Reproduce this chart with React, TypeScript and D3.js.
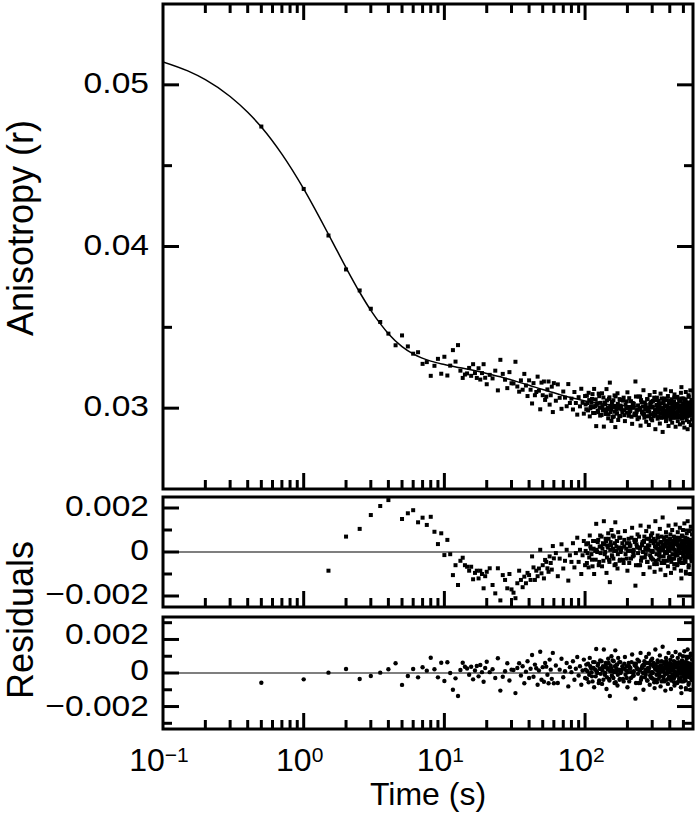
import React from 'react';
import * as d3 from 'd3';

// sample times (s); the last three blocks fill the dense tail of the record
const TIME_S = [
  0.5, 1, 1.5, 2, 2.5, 3, 3.5, 4, 4.5, 5, 5.5, 6, 6.5, 7, 7.5, 8, 8.5, 9, 9.5, 10,
  10.5, 11, 11.5, 12, 12.5, 13, 13.5, 14, 14.5, 15, 15.5, 16, 16.5, 17, 17.5, 18, 18.5, 19, 19.5, 20,
  21, 22, 23, 24, 25, 26, 27, 28, 29, 30, 31, 32, 33, 34, 35, 36, 37, 38, 39, 40,
  41, 42, 43, 44, 45, 46, 47, 48, 49, 50, 51, 52, 53, 54, 55, 56, 57, 58, 59, 60,
  62, 64, 66, 68, 70, 72, 74, 76, 78, 80, 82, 84, 86, 88, 90, 92, 94, 96, 98, 100,
  102, 104, 106, 108, 110, 112, 114, 116, 118, 120, 122, 124, 126, 128, 130, 132, 134, 136, 138, 140,
  142, 144, 146, 148, 150, 152, 154, 156, 158, 160, 162, 164, 166, 168, 170, 172, 174, 176, 178, 180,
  184, 188, 192, 196, 200, 204, 208, 212, 216, 220, 224, 228, 232, 236, 240, 244, 248, 252, 256, 260,
  264, 268, 272, 276, 280, 284, 288, 292, 296, 300, 304, 308, 312, 316, 320, 324, 328, 332, 336, 340,
  344, 348, 352, 356, 360, 364, 368, 372, 376, 380, 384, 388, 392, 396, 400, 404, 408, 412, 416, 420,
  424, 428, 432, 436, 440, 444, 448, 452, 456, 460, 464, 468, 472, 476, 480, 484, 488, 492, 496, 500,
  504, 508, 512, 516, 520, 524, 528, 532, 536, 540, 544, 548, 552, 556, 560, 564, 568, 572, 576, 580,
  101, 103, 105, 107, 109, 111, 113, 115, 117, 119, 121, 123, 125, 127, 129, 131, 133, 135, 137, 139,
  141, 143, 145, 147, 149, 151, 153, 155, 157, 159, 161, 163, 165, 167, 169, 171, 173, 175, 177, 179,
  182, 186, 190, 194, 198, 202, 206, 210, 214, 218, 222, 226, 230, 234, 238, 242, 246, 250, 254, 258,
  262, 266, 270, 274, 278, 282, 286, 290, 294, 298, 302, 306, 310, 314, 318, 322, 326, 330, 334, 338,
  342, 346, 350, 354, 358, 362, 366, 370, 374, 378, 382, 386, 390, 394, 398, 402, 406, 410, 414, 418,
  422, 426, 430, 434, 438, 442, 446, 450, 454, 458, 462, 466, 470, 474, 478, 482, 486, 490, 494, 498,
  502, 506, 510, 514, 518, 522, 526, 530, 534, 538, 542, 546, 550, 554, 558, 562, 566, 570, 574, 578,
  190, 198, 206, 214, 222, 230, 238, 246, 254, 262, 270, 278, 286, 294, 302, 310, 318, 326, 334, 342,
  350, 358, 366, 374, 382, 390, 398, 406, 414, 422, 430, 438, 446, 454, 462, 470, 478, 486, 494, 502,
  510, 518, 526, 534, 542, 550, 558, 566, 574,
];

const ANISOTROPY = [
  0.04742, 0.04356, 0.04068, 0.03858, 0.03728, 0.03615, 0.03533, 0.03461, 0.03389, 0.0345,
  0.03382, 0.03337, 0.03346, 0.03274, 0.03285, 0.032, 0.03262, 0.03305, 0.03213, 0.03318,
  0.03202, 0.03263, 0.03359, 0.03288, 0.0339, 0.03232, 0.03187, 0.03208, 0.03215, 0.03249,
  0.032, 0.03272, 0.03217, 0.03187, 0.03247, 0.03177, 0.03217, 0.03272, 0.03188, 0.03148,
  0.03206, 0.03184, 0.03232, 0.0311, 0.03299, 0.03212, 0.03176, 0.03124, 0.03223, 0.03154,
  0.03153, 0.03287, 0.03134, 0.03102, 0.03172, 0.03114, 0.03212, 0.0314, 0.03075, 0.03172,
  0.03114, 0.03029, 0.03155, 0.0308, 0.031, 0.03195, 0.03108, 0.02993, 0.03158, 0.0308,
  0.03165, 0.03051, 0.03071, 0.03116, 0.03165, 0.03022, 0.0308, 0.03133, 0.02976, 0.03155,
  0.03046, 0.03147, 0.03064, 0.02996, 0.03103, 0.03065, 0.03012, 0.03149, 0.03032, 0.03059,
  0.02992, 0.031, 0.03032, 0.0296, 0.03068, 0.03011, 0.0312, 0.03033, 0.02966, 0.03075,
  0.02993, 0.03032, 0.03095, 0.02949, 0.03008, 0.03057, 0.0297, 0.03119, 0.03013, 0.02889,
  0.03031, 0.02975, 0.03074, 0.02954, 0.03003, 0.03092, 0.02986, 0.02886, 0.03035, 0.02964,
  0.03118, 0.02993, 0.02937, 0.03057, 0.03158, 0.02976, 0.02921, 0.0304, 0.03005, 0.02949,
  0.03079, 0.02883, 0.03013, 0.02968, 0.03092, 0.02927, 0.02997, 0.03056, 0.02951, 0.03006,
  0.02975, 0.03065, 0.0292, 0.03, 0.03098, 0.02953, 0.02988, 0.03043, 0.02903, 0.03013,
  0.02957, 0.03165, 0.02977, 0.02932, 0.03072, 0.02992, 0.02892, 0.03036, 0.02966, 0.03111,
  0.02941, 0.03001, 0.02916, 0.03056, 0.02981, 0.02896, 0.03081, 0.02961, 0.03006, 0.02925,
  0.03045, 0.0295, 0.031, 0.0287, 0.0299, 0.03065, 0.02935, 0.02975, 0.03025, 0.02905,
  0.0309, 0.02965, 0.03, 0.02853, 0.0305, 0.02945, 0.02985, 0.03115, 0.0292, 0.0301,
  0.0296, 0.03075, 0.0289, 0.0298, 0.0303, 0.0293, 0.03105, 0.0297, 0.0291, 0.0304,
  0.02995, 0.0294, 0.03085, 0.02955, 0.02885, 0.0302, 0.02975, 0.0307, 0.0292, 0.03005,
  0.0295, 0.03055, 0.029, 0.02985, 0.03095, 0.0313, 0.02935, 0.02995, 0.0291, 0.0306,
  0.02965, 0.0288, 0.0304, 0.02945, 0.031, 0.0299, 0.02925, 0.03025, 0.0287, 0.0297,
  0.0308, 0.02915, 0.0301, 0.02955, 0.0311, 0.02895, 0.0298, 0.0305, 0.0293, 0.03,
  0.03023, 0.03077, 0.02986, 0.0305, 0.02999, 0.03033, 0.03087, 0.03006, 0.0297, 0.03054,
  0.03021, 0.02985, 0.0309, 0.03004, 0.03033, 0.02958, 0.03012, 0.03066, 0.02991, 0.03025,
  0.02974, 0.03048, 0.03003, 0.02962, 0.03067, 0.03011, 0.02991, 0.03035, 0.02945, 0.03049,
  0.03014, 0.02978, 0.03073, 0.02993, 0.02967, 0.03027, 0.03002, 0.02951, 0.03051, 0.03016,
  0.02992, 0.03047, 0.02957, 0.03022, 0.02972, 0.03007, 0.03062, 0.02982, 0.02947, 0.03032,
  0.03002, 0.02967, 0.03072, 0.02987, 0.03017, 0.02942, 0.02997, 0.0305, 0.02975, 0.0301,
  0.0296, 0.03035, 0.0299, 0.0295, 0.03055, 0.03, 0.0298, 0.03025, 0.02935, 0.0304,
  0.03005, 0.0297, 0.03065, 0.02985, 0.0296, 0.0302, 0.02995, 0.02945, 0.03045, 0.0301,
  0.02965, 0.0299, 0.0306, 0.02975, 0.03, 0.0303, 0.02955, 0.03015, 0.0298, 0.0294,
  0.0305, 0.02995, 0.0297, 0.03035, 0.03005, 0.0295, 0.02985, 0.03055, 0.0299, 0.0302,
  0.0296, 0.02975, 0.0304, 0.03, 0.02945, 0.03025, 0.0301, 0.02965, 0.03065, 0.0298,
  0.02995, 0.03045, 0.02955, 0.0299, 0.03015, 0.0297, 0.0306, 0.02985, 0.0294, 0.0303,
  0.03, 0.02975, 0.0305, 0.0296, 0.0301, 0.03035, 0.0295, 0.02995, 0.0302, 0.02965,
  0.0298, 0.0307, 0.0299, 0.02955, 0.03025, 0.03005, 0.0297, 0.0304, 0.02985, 0.03,
  0.02987, 0.03042, 0.02972, 0.03007, 0.03027, 0.02957, 0.02992, 0.03072, 0.0298, 0.02965,
  0.0302, 0.02995, 0.0295, 0.03035, 0.0301, 0.0296, 0.0305, 0.02975, 0.03, 0.0303,
  0.0294, 0.02985, 0.0306, 0.0297, 0.03015, 0.0299, 0.02955, 0.03045, 0.02995, 0.0298,
  0.03065, 0.02965, 0.0301, 0.03025, 0.02945, 0.03, 0.0304, 0.02975, 0.0296, 0.0302,
  0.0299, 0.03055, 0.02985, 0.0295, 0.03005, 0.03035, 0.0297, 0.02995, 0.0305,
];

// residuals of the single-exponential fit (upper residual panel)
const RESID_SINGLE = [
  -0.0042, -0.0029, -0.00085, 0.0007, 0.00105, 0.00168, 0.00209, 0.00236, 0.0028, 0.0015,
  0.00176, 0.0019, 0.00135, 0.00156, 0.00123, 0.0016, 0.00092, 0.00036, 0.00085, -0.00014,
  0.00055, -0.0001, -0.00105, -0.0006, -0.0015, -0.0004, -0.00026, -0.0006, -0.00067, -0.00085,
  -0.00067, -0.00124, -0.00095, -0.00085, -0.0012, -0.00085, -0.001, -0.00165, -0.0011, -0.0009,
  -0.00074, -0.0015, -0.00188, -0.00074, -0.0022, -0.00105, -0.00127, -0.00165, -0.001, -0.0017,
  -0.00185, -0.0021, -0.00142, -0.00085, -0.00127, -0.0016, -0.00112, -0.00142, -0.00095, -0.00105,
  -0.00127, -0.0002, -0.0007, -0.00127, -0.00085, -0.0011, -0.00075, 0.0001, -0.00097, -0.0006,
  -0.0012, -0.00036, -0.00045, -0.00074, -0.0009, -0.0002, -0.0005, -0.0008, 0.00027, -0.00029,
  -0.00005, -0.0011, -0.0003, 0.00035, -0.00075, -0.0004, 0.0001, -0.0013, -0.00015, -0.00045,
  0.0004, -0.0007, -0.00005, 0.00065, -0.00045, 0.0001, -0.001, -0.00015, 0.0005, -0.0006,
  0.00035, -0.00005, -0.0007, 0.00075, 0.00015, -0.00035, 0.0005, -0.001, 0.00005, 0.00128,
  0, 0.00055, -0.00045, 0.00075, 0.00025, -0.00065, 0.0004, 0.0014, -0.0001, 0.0006,
  -0.00095, 0.0003, 0.00085, -0.00035, -0.00137, 0.00045, 0.001, -0.0002, 0.00015, 0.0007,
  -0.0006, 0.00135, 0.00005, 0.0005, -0.00075, 0.0009, 0.0002, -0.0004, 0.00065, 0.0001,
  0.0004, -0.0005, 0.00095, 0.00015, -0.00085, 0.0006, 0.00025, -0.0003, 0.0011, 0,
  0.00055, -0.00153, 0.00035, 0.0008, -0.0006, 0.0002, 0.0012, -0.00025, 0.00045, -0.001,
  0.0007, 0.0001, 0.00095, -0.00045, 0.0003, 0.00115, -0.0007, 0.0005, 0.00005, 0.00085,
  -0.00035, 0.0006, -0.0009, 0.0014, 0.0002, -0.00055, 0.00075, 0.00035, -0.00015, 0.00105,
  -0.0008, 0.00045, 0.0001, 0.00157, -0.0004, 0.00065, 0.00025, -0.00105, 0.0009, 0,
  0.0005, -0.00065, 0.0012, 0.0003, -0.0002, 0.0008, -0.00095, 0.0004, 0.001, -0.0003,
  0.00015, 0.0007, -0.00075, 0.00055, 0.00125, -0.0001, 0.00035, -0.0006, 0.0009, 0.00005,
  0.0006, -0.00045, 0.0011, 0.00025, -0.00085, -0.0012, 0.00075, 0.00015, 0.001, -0.0005,
  0.00045, 0.0013, -0.0003, 0.00065, -0.0009, 0.0002, 0.00085, -0.00015, 0.0014, 0.0004,
  -0.0007, 0.00095, 0, 0.00055, -0.001, 0.00115, 0.0003, -0.0004, 0.0008, 0.0001,
  0.00005, -0.0005, 0.0004, -0.00025, 0.00025, -0.0001, -0.00065, 0.00015, 0.0005, -0.00035,
  0.0001, 0.00045, -0.0006, 0.00025, -0.00005, 0.0007, 0.00015, -0.0004, 0.00035, 0,
  0.0005, -0.00025, 0.0002, 0.0006, -0.00045, 0.0001, 0.0003, -0.00015, 0.00075, -0.0003,
  0.00005, 0.0004, -0.00055, 0.00025, 0.0005, -0.0001, 0.00015, 0.00065, -0.00035, 0,
  0.0002, -0.00035, 0.00055, -0.0001, 0.0004, 0.00005, -0.0005, 0.0003, 0.00065, -0.0002,
  0.0001, 0.00045, -0.0006, 0.00025, -0.00005, 0.0007, 0.00015, -0.0004, 0.00035, 0,
  0.0005, -0.00025, 0.0002, 0.0006, -0.00045, 0.0001, 0.0003, -0.00015, 0.00075, -0.0003,
  0.00005, 0.0004, -0.00055, 0.00025, 0.0005, -0.0001, 0.00015, 0.00065, -0.00035, 0,
  0.00045, 0.0002, -0.0005, 0.00035, 0.0001, -0.0002, 0.00055, -0.00005, 0.0003, 0.0007,
  -0.0004, 0.00015, 0.0004, -0.00025, 0.00005, 0.0006, 0.00025, -0.00045, 0.0002, -0.0001,
  0.0005, 0.00035, -0.0003, 0.0001, 0.00065, -0.00015, 0, 0.00045, -0.00055, 0.0003,
  0.00015, -0.00035, 0.00055, 0.0002, -0.00005, 0.0004, -0.0005, 0.00025, 0.0007, -0.0002,
  0.0001, 0.00035, -0.0004, 0.0005, 0, -0.00025, 0.0006, 0.00015, -0.0001, 0.00045,
  0.0003, -0.0006, 0.0002, 0.00055, -0.00015, 0.00005, 0.0004, -0.0003, 0.00025, 0.0001,
  0.00025, -0.0003, 0.0004, 0.00005, -0.00015, 0.00055, 0.0002, -0.0006, 0.0003, 0.00045,
  -0.0001, 0.00015, 0.0006, -0.00025, 0, 0.0005, -0.0004, 0.00035, 0.0001, -0.0002,
  0.0007, 0.00025, -0.0005, 0.0004, -0.00005, 0.0002, 0.00055, -0.00035, 0.00015, 0.0003,
  -0.00055, 0.00045, 0, -0.00015, 0.00065, 0.0001, -0.0003, 0.00035, 0.0005, -0.0001,
  0.0002, -0.00045, 0.00025, 0.0006, 0.00005, -0.00025, 0.0004, 0.00015, -0.0004,
];

// residuals of the fit drawn in the top panel (lower residual panel)
const RESID_DOUBLE = [
  -0.00058, -0.00038, 0.00002, 0.00024, -0.00036, -0.00018, 0.00002, 0.00022, 0.00058, -0.00071,
  -0.00018, 0.00024, -0.00026, 0.00034, 0.00014, 0.00091, 0.00022, -0.00026, 0.00061, -0.00048,
  0.00064, 0, -0.001, -0.00032, -0.00137, 0.00018, 0.00061, 0.00037, 0.00027, -0.0001,
  0.00037, -0.00038, 0.00015, 0.00042, -0.0002, 0.00048, 0.00005, -0.00052, 0.0003, 0.00067,
  0.00005, 0.00022, -0.0003, 0.00088, -0.00105, -0.00022, 0.0001, 0.00058, -0.00045, 0.0002,
  0.00018, -0.0012, 0.0003, 0.00058, -0.00015, 0.0004, -0.00061, 0.00008, 0.0007, -0.0003,
  0.00025, 0.00107, -0.00022, 0.0005, 0.00028, -0.0007, 0.00015, 0.00127, -0.0004, 0.00035,
  -0.00052, 0.0006, 0.00038, -0.0001, -0.00061, 0.0008, 0.0002, -0.00035, 0.0012, -0.00061,
  0.00045, -0.0006, 0.0002, 0.00085, -0.00025, 0.0001, 0.0006, -0.0008, 0.00035, 0.00005,
  0.0007, -0.0004, 0.00025, 0.00095, -0.00015, 0.0004, -0.0007, 0.00015, 0.0008, -0.0003,
  0.0005, 0.0001, -0.00055, 0.0009, 0.0003, -0.0002, 0.00065, -0.00085, 0.0002, 0.00143,
  0, 0.00055, -0.00045, 0.00075, 0.00025, -0.00065, 0.0004, 0.0014, -0.0001, 0.0006,
  -0.00095, 0.0003, 0.00085, -0.00035, -0.00137, 0.00045, 0.001, -0.0002, 0.00015, 0.0007,
  -0.0006, 0.00135, 0.00005, 0.0005, -0.00075, 0.0009, 0.0002, -0.0004, 0.00065, 0.0001,
  0.0004, -0.0005, 0.00095, 0.00015, -0.00085, 0.0006, 0.00025, -0.0003, 0.0011, 0,
  0.00055, -0.00153, 0.00035, 0.0008, -0.0006, 0.0002, 0.0012, -0.00025, 0.00045, -0.001,
  0.0007, 0.0001, 0.00095, -0.00045, 0.0003, 0.00115, -0.0007, 0.0005, 0.00005, 0.00085,
  -0.00035, 0.0006, -0.0009, 0.0014, 0.0002, -0.00055, 0.00075, 0.00035, -0.00015, 0.00105,
  -0.0008, 0.00045, 0.0001, 0.00157, -0.0004, 0.00065, 0.00025, -0.00105, 0.0009, 0,
  0.0005, -0.00065, 0.0012, 0.0003, -0.0002, 0.0008, -0.00095, 0.0004, 0.001, -0.0003,
  0.00015, 0.0007, -0.00075, 0.00055, 0.00125, -0.0001, 0.00035, -0.0006, 0.0009, 0.00005,
  0.0006, -0.00045, 0.0011, 0.00025, -0.00085, -0.0012, 0.00075, 0.00015, 0.001, -0.0005,
  0.00045, 0.0013, -0.0003, 0.00065, -0.0009, 0.0002, 0.00085, -0.00015, 0.0014, 0.0004,
  -0.0007, 0.00095, 0, 0.00055, -0.001, 0.00115, 0.0003, -0.0004, 0.0008, 0.0001,
  0.0002, -0.00035, 0.00055, -0.0001, 0.0004, 0.00005, -0.0005, 0.0003, 0.00065, -0.0002,
  0.0001, 0.00045, -0.0006, 0.00025, -0.00005, 0.0007, 0.00015, -0.0004, 0.00035, 0,
  0.0005, -0.00025, 0.0002, 0.0006, -0.00045, 0.0001, 0.0003, -0.00015, 0.00075, -0.0003,
  0.00005, 0.0004, -0.00055, 0.00025, 0.0005, -0.0001, 0.00015, 0.00065, -0.00035, 0,
  0.0002, -0.00035, 0.00055, -0.0001, 0.0004, 0.00005, -0.0005, 0.0003, 0.00065, -0.0002,
  0.0001, 0.00045, -0.0006, 0.00025, -0.00005, 0.0007, 0.00015, -0.0004, 0.00035, 0,
  0.0005, -0.00025, 0.0002, 0.0006, -0.00045, 0.0001, 0.0003, -0.00015, 0.00075, -0.0003,
  0.00005, 0.0004, -0.00055, 0.00025, 0.0005, -0.0001, 0.00015, 0.00065, -0.00035, 0,
  0.00045, 0.0002, -0.0005, 0.00035, 0.0001, -0.0002, 0.00055, -0.00005, 0.0003, 0.0007,
  -0.0004, 0.00015, 0.0004, -0.00025, 0.00005, 0.0006, 0.00025, -0.00045, 0.0002, -0.0001,
  0.0005, 0.00035, -0.0003, 0.0001, 0.00065, -0.00015, 0, 0.00045, -0.00055, 0.0003,
  0.00015, -0.00035, 0.00055, 0.0002, -0.00005, 0.0004, -0.0005, 0.00025, 0.0007, -0.0002,
  0.0001, 0.00035, -0.0004, 0.0005, 0, -0.00025, 0.0006, 0.00015, -0.0001, 0.00045,
  0.0003, -0.0006, 0.0002, 0.00055, -0.00015, 0.00005, 0.0004, -0.0003, 0.00025, 0.0001,
  0.00025, -0.0003, 0.0004, 0.00005, -0.00015, 0.00055, 0.0002, -0.0006, 0.0003, 0.00045,
  -0.0001, 0.00015, 0.0006, -0.00025, 0, 0.0005, -0.0004, 0.00035, 0.0001, -0.0002,
  0.0007, 0.00025, -0.0005, 0.0004, -0.00005, 0.0002, 0.00055, -0.00035, 0.00015, 0.0003,
  -0.00055, 0.00045, 0, -0.00015, 0.00065, 0.0001, -0.0003, 0.00035, 0.0005, -0.0001,
  0.0002, -0.00045, 0.00025, 0.0006, 0.00005, -0.00025, 0.0004, 0.00015, -0.0004,
];

// fitted curve
const FIT_TIME = [
  0.1, 0.15, 0.2, 0.3, 0.4, 0.5, 0.7, 1, 1.3, 1.6, 2, 2.5, 3, 3.5, 4, 5, 6, 8, 10, 13,
  16, 20, 25, 30, 40, 50, 65, 80, 100, 130, 160, 200, 250, 300, 400, 585,
];
const FIT_ANISOTROPY = [
  0.05142, 0.05086, 0.05032, 0.04928, 0.0483, 0.04739, 0.04571, 0.04356, 0.04177, 0.04029,
  0.03869, 0.03717, 0.03605, 0.03523, 0.03461, 0.03381, 0.03336, 0.03291, 0.0327, 0.0325,
  0.03234, 0.03215, 0.03194, 0.03174, 0.03142, 0.03115, 0.03086, 0.03064, 0.03045, 0.03028,
  0.03019, 0.03014, 0.03011, 0.0301, 0.0301, 0.0301,
];

const X_LABEL_VALUES = [0.1, 1, 10, 100];
const X_LABEL_EXPONENTS = ['\u22121', '0', '1', '2'];
const TOP_LABEL_VALUES = [0.03, 0.04, 0.05];
const TOP_LABELS = ['0.03', '0.04', '0.05'];
const RESID_LABEL_VALUES = [0.002, 0, -0.002];
const RESID_LABELS = ['0.002', '0', '\u22120.002'];

const FONT = '"Liberation Sans", Arial, Helvetica, sans-serif';
const LEFT = 163;
const RIGHT = 693;
const MAJOR = 16;
const MINOR = 9;
const LABEL_RIGHT = 149;

const isDecade = (v: number) => {
  const l = Math.log10(v);
  return Math.abs(l - Math.round(l)) < 1e-6;
};

const isMultiple = (v: number, step: number) => Math.abs(v / step - Math.round(v / step)) < 1e-6;

// right-aligned y tick label, slightly widened like the original lettering
const YLabel = ({ y, text }: { y: number; text: string }) => (
  <text transform={`translate(${LABEL_RIGHT},${y}) scale(1.12,1)`} textAnchor="end" fontSize={30}>
    {text}
  </text>
);

export default function App() {
  const x = d3.scaleLog().domain([0.1, 585]).range([LEFT, RIGHT]);
  const yTop = d3.scaleLinear().domain([0.025, 0.055]).range([489, 4]);
  const yRes1 = d3.scaleLinear().domain([-0.0025, 0.0025]).range([607, 497]);
  const yRes2 = d3.scaleLinear().domain([-0.00334, 0.00334]).range([729, 617]);

  const xTicks = x.ticks().filter((v) => v > 0.1001);

  const panel = (
    key: string,
    y: d3.ScaleLinear<number, number>,
    majorStep: number,
    tickCount: number,
    withTopTicks: boolean
  ) => {
    const [top, bottom] = [y.range()[1], y.range()[0]];
    const [lo, hi] = y.domain();
    const eps = (hi - lo) * 0.01;
    const yTicks = y.ticks(tickCount).filter((v) => v > lo + eps && v < hi - eps);
    return (
      <g key={key}>
        {xTicks.map((v, i) => {
          const px = x(v);
          const len = isDecade(v) ? MAJOR : MINOR;
          return (
            <g key={`x${i}`}>
              <line x1={px} x2={px} y1={bottom} y2={bottom - len} />
              {withTopTicks && <line x1={px} x2={px} y1={top} y2={top + len} />}
            </g>
          );
        })}
        {yTicks.map((v, i) => {
          const py = y(v);
          const len = isMultiple(v, majorStep) ? MAJOR : MINOR;
          return (
            <g key={`y${i}`}>
              <line x1={LEFT} x2={LEFT + len} y1={py} y2={py} />
              <line x1={RIGHT - len} x2={RIGHT} y1={py} y2={py} />
            </g>
          );
        })}
        <rect x={LEFT} y={top} width={RIGHT - LEFT} height={bottom - top} fill="none" />
      </g>
    );
  };

  const fitLine = d3
    .line<number>()
    .x((_, i) => x(FIT_TIME[i]))
    .y((d) => yTop(d))
    .curve(d3.curveMonotoneX);

  const n = Math.min(TIME_S.length, ANISOTROPY.length, RESID_SINGLE.length, RESID_DOUBLE.length);
  const idx = d3.range(n);

  return (
    <svg
      width={700}
      height={818}
      style={{ position: 'absolute', left: 0, top: 0, background: '#fff' }}
      fontFamily={FONT}
    >
      <defs>
        <clipPath id="clipTop">
          <rect x={LEFT} y={4} width={RIGHT - LEFT} height={485} />
        </clipPath>
        <clipPath id="clipRes1">
          <rect x={LEFT} y={497} width={RIGHT - LEFT} height={110} />
        </clipPath>
        <clipPath id="clipRes2">
          <rect x={LEFT} y={617} width={RIGHT - LEFT} height={112} />
        </clipPath>
      </defs>

      <g clipPath="url(#clipTop)">
        {idx.map((i) => (
          <rect
            key={`a${i}`}
            x={x(TIME_S[i]) - 2}
            y={yTop(ANISOTROPY[i]) - 2}
            width={4}
            height={4}
            fill="#000"
          />
        ))}
        <path d={fitLine(FIT_ANISOTROPY) || ''} fill="none" stroke="#000" strokeWidth={1.5} />
      </g>

      <g clipPath="url(#clipRes1)">
        <line x1={LEFT} x2={RIGHT} y1={yRes1(0)} y2={yRes1(0)} stroke="#000" strokeWidth={1.2} />
        {idx.map((i) => (
          <rect
            key={`r1${i}`}
            x={x(TIME_S[i]) - 2}
            y={yRes1(RESID_SINGLE[i]) - 2}
            width={4}
            height={4}
            fill="#000"
          />
        ))}
      </g>

      <g clipPath="url(#clipRes2)">
        <line x1={LEFT} x2={RIGHT} y1={yRes2(0)} y2={yRes2(0)} stroke="#000" strokeWidth={1.2} />
        {idx.map((i) => (
          <circle key={`r2${i}`} cx={x(TIME_S[i])} cy={yRes2(RESID_DOUBLE[i])} r={2.2} fill="#000" />
        ))}
      </g>

      <g stroke="#000" strokeWidth={3}>
        {panel('top', yTop, 0.01, 6, true)}
        {panel('res1', yRes1, 0.002, 5, false)}
        {panel('res2', yRes2, 0.002, 6, false)}
      </g>

      <g fontSize={32} fill="#000">
        {TOP_LABEL_VALUES.map((v, i) => (
          <YLabel key={`tl${i}`} y={yTop(v) + 8} text={TOP_LABELS[i]} />
        ))}
        {RESID_LABEL_VALUES.map((v, i) => (
          <YLabel key={`r1l${i}`} y={yRes1(v) + 8} text={RESID_LABELS[i]} />
        ))}
        {RESID_LABEL_VALUES.map((v, i) => (
          <YLabel key={`r2l${i}`} y={yRes2(v) + 7 - v * 1000} text={RESID_LABELS[i]} />
        ))}
        {X_LABEL_VALUES.map((v, i) => (
          <text key={`xl${i}`} x={x(v) - 4} y={771} textAnchor="middle">
            10
            <tspan dy={-9} fontSize={21}>
              {X_LABEL_EXPONENTS[i]}
            </tspan>
          </text>
        ))}
        <text x={428} y={805} textAnchor="middle" fontSize={32}>
          Time (s)
        </text>
        <text transform="translate(33,228) rotate(-90)" textAnchor="middle" fontSize={36}>
          Anisotropy (r)
        </text>
        <text transform="translate(33,620) rotate(-90)" textAnchor="middle" fontSize={36}>
          Residuals
        </text>
      </g>
    </svg>
  );
}
